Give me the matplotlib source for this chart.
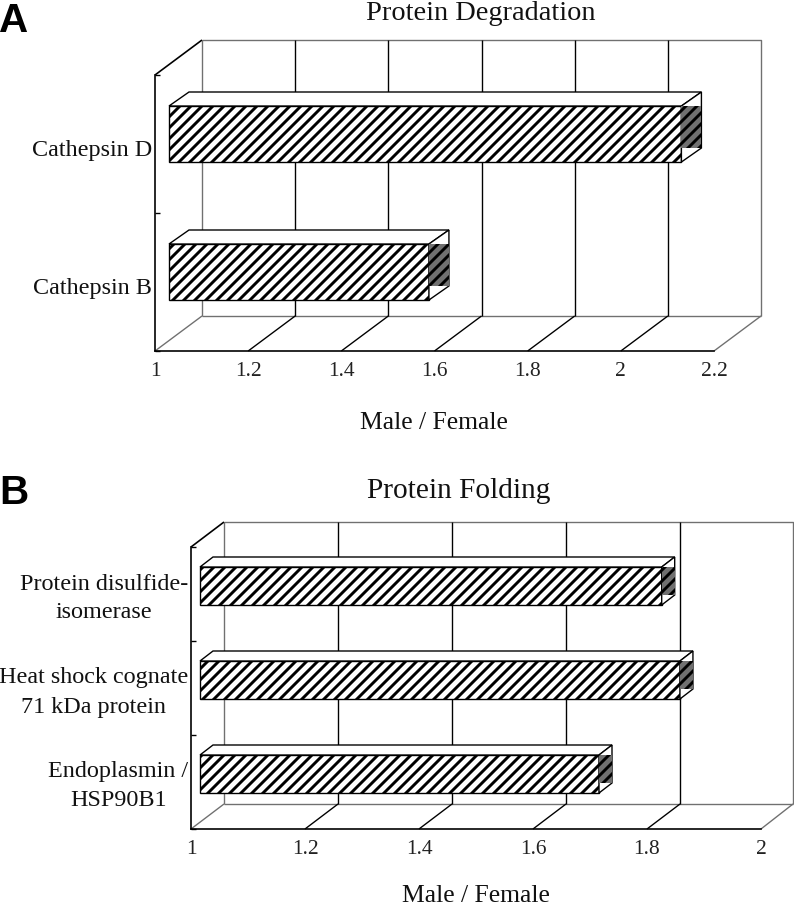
import matplotlib
matplotlib.use("Agg")
import matplotlib.pyplot as plt
from matplotlib.transforms import ScaledTranslation

W, H, DPI = 794, 907, 66
plt.rcParams['hatch.linewidth'] = 3.2
SERIF = 'Liberation Serif'
GREY = '#707070'

# ---- data ----
cats_a = ['Cathepsin B', 'Cathepsin D']
vals_a = [1.558, 2.10]
ticks_a = [1, 1.2, 1.4, 1.6, 1.8, 2, 2.2]
tick_labels_a = ['1', '1.2', '1.4', '1.6', '1.8', '2', '2.2']

cats_b = ['Endoplasmin /\nHSP90B1', 'Heat shock cognate\n71 kDa protein', 'Protein disulfide-\nisomerase']
vals_b = [1.70, 1.842, 1.81]
ticks_b = [1, 1.2, 1.4, 1.6, 1.8, 2]
tick_labels_b = ['1', '1.2', '1.4', '1.6', '1.8', '2']

fig = plt.figure(figsize=(W / DPI, H / DPI), dpi=DPI)


def panel(rect, cats, vals, ticks, tlabels, wall, bar_off, bar_d, bar_h, title, tpos, tsize, xlab, xpos, letter, lpos, rdx, lab_shift):
    left, right, top, bottom = rect
    ax = fig.add_axes([left / W, 1 - bottom / H, (right - left) / W, (bottom - top) / H])
    n = len(cats)
    xmin, xmax = ticks[0], ticks[-1]
    ax.set_xlim(xmin, xmax)
    ax.set_ylim(0, n)
    sx = (right - left) / (xmax - xmin)
    sy = (bottom - top) / n
    wx, wy = wall[0] / sx, wall[1] / sy
    wr = rdx / sx

    for s in ('top', 'right'):
        ax.spines[s].set_visible(False)
    for s in ('left', 'bottom'):
        ax.spines[s].set_linewidth(1.8)
        ax.spines[s].set_color('black')
    ax.patch.set_visible(False)

    # back wall and floor
    kw = dict(clip_on=False, solid_capstyle='butt')
    ax.plot([xmin + wx, xmax + wr, xmax + wr], [n + wy, n + wy, wy], color=GREY, lw=1.5, zorder=1, **kw)
    ax.plot([xmin + wx, xmax + wr], [wy, wy], color=GREY, lw=1.5, zorder=1, **kw)
    ax.plot([xmin + wx, xmin + wx], [wy, n + wy], color=GREY, lw=1.5, zorder=1, **kw)
    ax.plot([xmin, xmin + wx], [0, wy], color=GREY, lw=1.5, zorder=1, **kw)
    ax.plot([xmax, xmax + wr], [0, wy], color=GREY, lw=1.5, zorder=1, **kw)
    ax.plot([xmin, xmin + wx], [n, n + wy], color='black', lw=1.8, zorder=2, **kw)
    for t in ticks[1:-1]:
        ax.plot([t + wx, t + wx], [wy, n + wy], color='black', lw=1.5, zorder=2, **kw)
        ax.plot([t, t + wx], [0, wy], color='black', lw=1.5, zorder=2, **kw)

    # bars
    ox, oy = bar_off[0] / sx, bar_off[1] / sy
    dx, dy = bar_d[0] / sx, bar_d[1] / sy
    h = bar_h / sy
    for i, v in enumerate(vals):
        x0 = xmin + ox
        x1 = v + ox
        y0 = i + 0.5 + oy - h / 2
        y1 = y0 + h
        ax.barh(y0 + h / 2, x1 - x0, left=x0, height=h, facecolor='white', edgecolor='black',
                hatch='//', linewidth=1.5, zorder=4, clip_on=False)
        ax.fill([x0, x1, x1 + dx, x0 + dx], [y1, y1, y1 + dy, y1 + dy], facecolor='white',
                edgecolor='black', linewidth=1.5, zorder=4, clip_on=False)
        ax.fill([x1, x1 + dx, x1 + dx, x1], [y0, y0 + dy, y1 + dy, y1], facecolor='white',
                edgecolor='black', linewidth=1.5, zorder=4, clip_on=False)
        ax.fill([x1, x1 + dx, x1 + dx, x1], [y0 + dy, y0 + dy, y1, y1], facecolor=GREY,
                edgecolor='black', hatch='//', linewidth=0, zorder=5, clip_on=False)

    # axes text
    ax.set_xticks(ticks)
    ax.set_xticklabels(tlabels, family=SERIF, fontsize=23.5, color='#222222')
    ax.tick_params(axis='x', length=0, pad=12)
    ax.set_yticks(range(n + 1))
    ax.set_yticklabels([])
    ax.tick_params(axis='y', which='major', direction='in', length=5, width=1.5)
    ax.set_yticks([i + 0.5 for i in range(n)], minor=True)
    ax.set_yticklabels(cats, minor=True, family=SERIF, fontsize=26.3, ha='right',
                       multialignment='center', linespacing=1.5, color='#111111')
    ax.tick_params(axis='y', which='minor', length=0, pad=3)
    shift = ScaledTranslation(0, -lab_shift / DPI, fig.dpi_scale_trans)
    for lbl in ax.get_yticklabels(minor=True):
        lbl.set_transform(lbl.get_transform() + shift)

    fig.text(tpos[0] / W, 1 - tpos[1] / H, title, family=SERIF, fontsize=tsize, ha='center', va='center', color='#111111')
    fig.text(xpos[0] / W, 1 - xpos[1] / H, xlab, family=SERIF, fontsize=28, ha='center', va='center', color='#111111')
    fig.text(lpos[0] / W, 1 - lpos[1] / H, letter, family='Liberation Sans', weight='bold',
             fontsize=44, ha='center', va='center')


panel((155, 714, 75, 351), cats_a, vals_a, ticks_a, tick_labels_a, (47, 35), (14, 10), (20, 14), 56,
      'Protein Degradation', (481, 14), 31, 'Male / Female', (434, 423), 'A', (14, 21), 47, 4)
panel((191, 761, 547, 829), cats_b, vals_b, ticks_b, tick_labels_b, (33, 25), (9, 8), (13, 10), 38,
      'Protein Folding', (459, 491), 32, 'Male / Female', (476, 896), 'B', (14, 493), 32, -2)

fig.savefig('out.png', dpi=DPI)
